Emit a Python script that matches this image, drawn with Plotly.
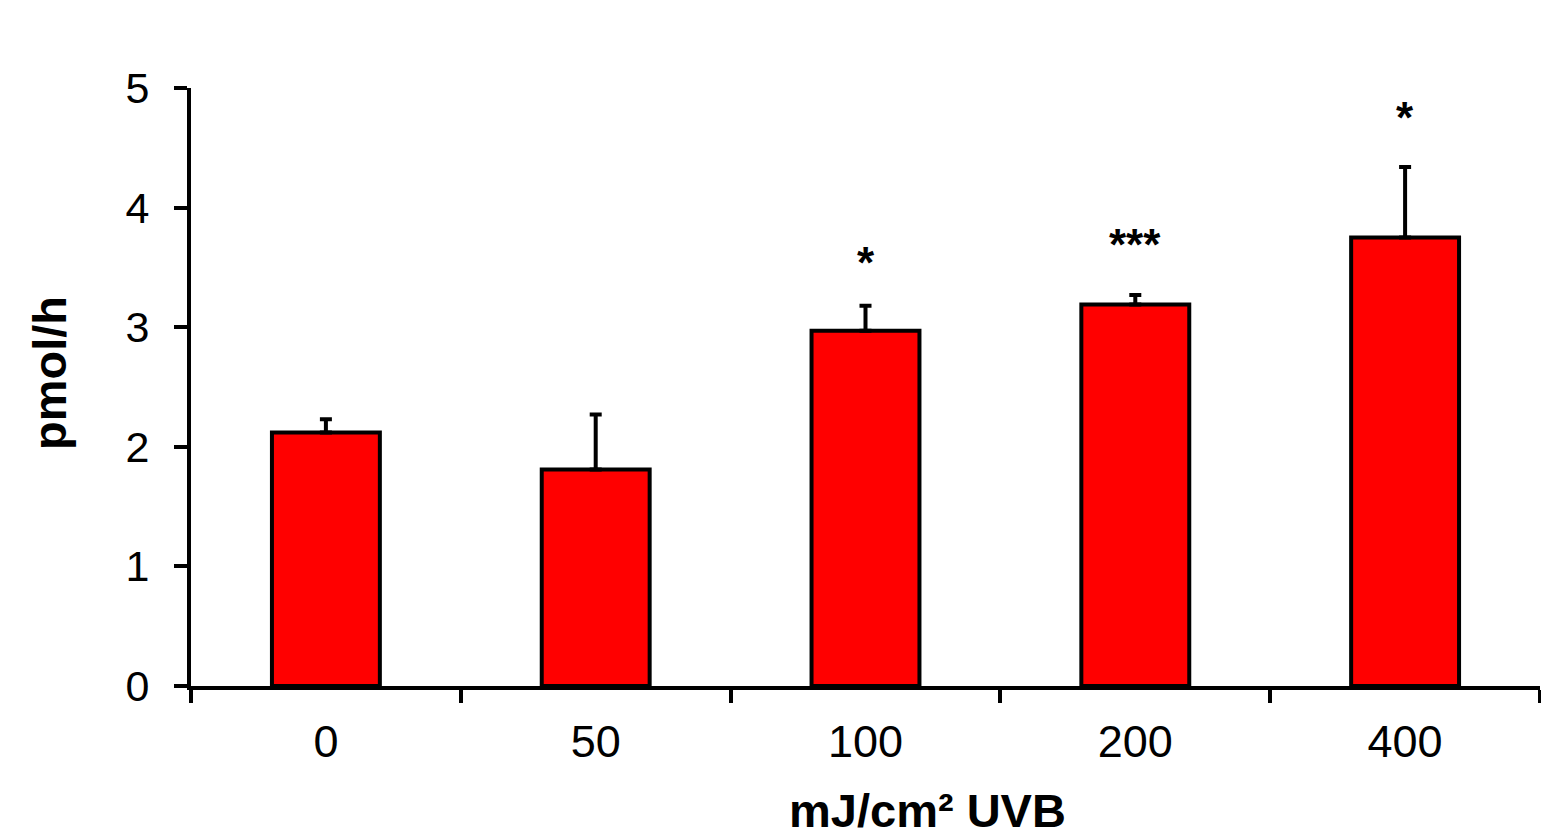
import plotly.graph_objects as go

categories = ["0", "50", "100", "200", "400"]
values = [2.12, 1.81, 2.97, 3.19, 3.75]
err_up = [0.11, 0.46, 0.21, 0.08, 0.59]
stars = ["", "", "*", "***", "*"]
star_y = [None, None, 3.54, 3.69, 4.75]
x_title = "<b>mJ/cm² UVB</b>"
y_title = "<b>pmol/h</b>"

fig = go.Figure()
fig.add_trace(go.Bar(
    x=categories, y=values,
    marker=dict(color="#ff0000", line=dict(color="black", width=4)),
    width=0.4,
    error_y=dict(type="data", symmetric=False, array=err_up,
                 arrayminus=[0]*len(values), color="black", thickness=4, width=6),
))

for i, (s, sy) in enumerate(zip(stars, star_y)):
    if s:
        fig.add_annotation(x=i, y=sy, xref="x", yref="y", text="<b>" + s + "</b>",
                           showarrow=False, yanchor="middle",
                           font=dict(family="Liberation Sans, Arial", size=44, color="black"))

fig.add_annotation(x=0.5456, y=-0.16, xref="paper", yref="paper", text=x_title,
                   showarrow=False, xanchor="center", yanchor="top",
                   font=dict(family="Liberation Sans, Arial", size=47, color="black"))
fig.add_annotation(x=-0.1053, y=0.5234, xref="paper", yref="paper", text=y_title,
                   showarrow=False, xanchor="center", yanchor="middle", textangle=-90,
                   font=dict(family="Liberation Sans, Arial", size=47, color="black"))

fig.update_layout(
    width=1541, height=836,
    margin=dict(l=191, r=1, t=88, b=150, autoexpand=False),
    plot_bgcolor="white", paper_bgcolor="white",
    showlegend=False,
    font=dict(family="Liberation Sans, Arial", color="black"),
    xaxis=dict(
        type="category", categoryorder="array", categoryarray=categories,
        range=[-0.5, 4.5], tickson="boundaries", ticks="outside", ticklen=13, tickwidth=4,
        tickcolor="black", showline=True, linecolor="black", linewidth=4,
        tickfont=dict(size=45), tickangle=0, ticklabelstandoff=13,
        showgrid=False, automargin=False,
    ),
    yaxis=dict(
        range=[0, 5], dtick=1, ticks="outside", ticklen=13, tickwidth=4,
        tickcolor="black", showline=True, linecolor="black", linewidth=4,
        tickfont=dict(size=43), ticklabelstandoff=16,
        showgrid=False, zeroline=False, automargin=False,
    ),
)

fig.write_html("out.html", config={"displayModeBar": False},
               post_script="document.body.style.margin='0px';")
